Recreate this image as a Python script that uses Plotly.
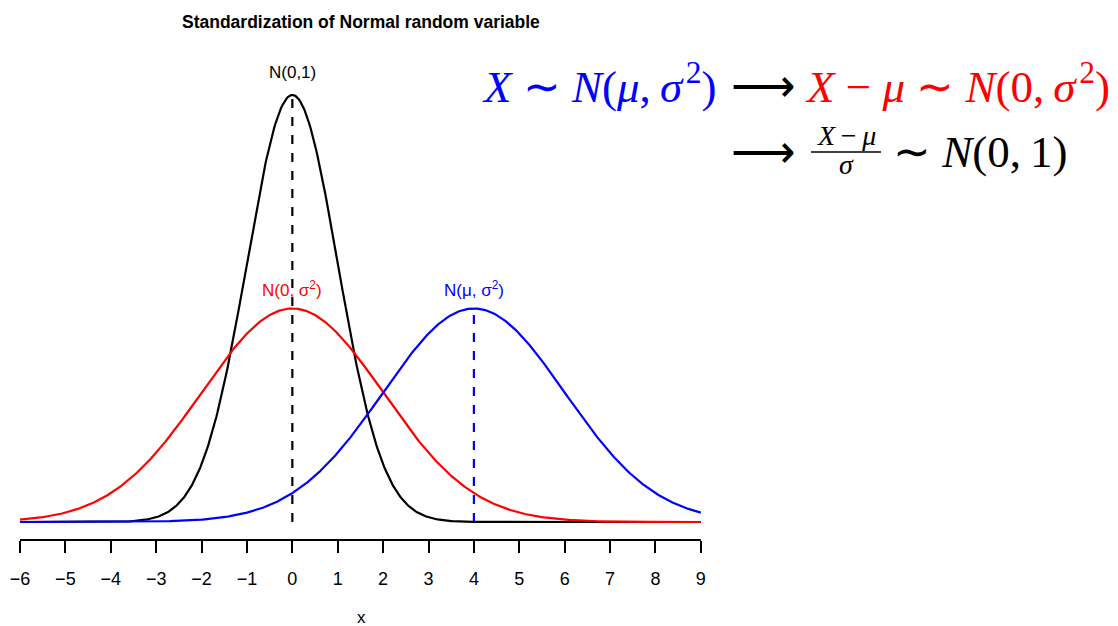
import numpy as np
import plotly.graph_objects as go

# ---- data ----
x_lo, x_hi = -6, 9
means = [0, 0, 4]
sds = [1, 2, 2]
colors = ["black", "red", "blue"]
curve_labels = ["N(0,1)", "N(0, σ<sup>2</sup>)", "N(μ, σ<sup>2</sup>)"]
label_x = [0, 0, 4]
tick_vals = list(range(-6, 10))
tick_text = [("−" + str(-v)) if v < 0 else str(v) for v in tick_vals]
title_text = "Standardization of Normal random variable"

W, H = 1118, 626
def px(x): return x / W
def py(y): return 1 - y / H

xs = np.linspace(x_lo, x_hi, 601)
def pdf(x, m, s):
    return np.exp(-0.5 * ((x - m) / s) ** 2) / (s * np.sqrt(2 * np.pi))

sans = "Liberation Sans, Arial, sans-serif"
serif = "Liberation Serif, Times New Roman, serif"
TH = "\u2009"   # thin space
HS = "\u200a"   # hair space

fig = go.Figure()
for m, s, c in zip(means, sds, colors):
    fig.add_trace(go.Scatter(x=xs, y=pdf(xs, m, s), mode="lines",
                             line=dict(color=c, width=2.2), hoverinfo="skip"))

# dashed vertical lines at means (N(0,1) and N(mu, s^2))
for idx in [0, 2]:
    m, s, c = means[idx], sds[idx], colors[idx]
    fig.add_trace(go.Scatter(x=[m, m], y=[0, pdf(m, m, s)], mode="lines",
                             line=dict(color=c, width=2.2, dash="9px,9px"),
                             hoverinfo="skip"))

# curve labels
for i in range(3):
    peak = pdf(means[i], means[i], sds[i])
    fig.add_annotation(x=label_x[i], y=peak, yshift=22 if i == 0 else 20, text=curve_labels[i],
                       showarrow=False, yanchor="middle",
                       font=dict(family=sans, size=17, color=colors[i]))

# x axis line from first to last tick
fig.add_shape(type="line", xref="x", yref="paper", x0=tick_vals[0], x1=tick_vals[-1],
              y0=py(540), y1=py(540), line=dict(color="black", width=2))

msize = 45
# line 1
fig.add_annotation(xref="paper", yref="paper", x=px(480), y=py(84), xanchor="left", yanchor="middle",
                   text="<i>X</i> ∼ <i>N</i>(<i>μ</i>," + TH + "<i>σ</i>" + HS + "<sup>2</sup>)",
                   showarrow=False, font=dict(family=serif, size=msize, color="blue"))
fig.add_annotation(xref="paper", yref="paper", x=px(763), y=py(86), xanchor="center", yanchor="middle",
                   text="⟶", showarrow=False,
                   font=dict(family=serif, size=msize, color="black"))
fig.add_annotation(xref="paper", yref="paper", x=px(1112), y=py(84), xanchor="right", yanchor="middle",
                   text="<i>X</i> − <i>μ</i> ∼ <i>N</i>(0," + TH + "<i>σ</i>" + HS + "<sup>2</sup>)",
                   showarrow=False, font=dict(family=serif, size=msize, color="red"))
# line 2
fig.add_annotation(xref="paper", yref="paper", x=px(763), y=py(152), xanchor="center", yanchor="middle",
                   text="⟶", showarrow=False,
                   font=dict(family=serif, size=msize, color="black"))
fig.add_annotation(xref="paper", yref="paper", x=px(846), y=py(136), xanchor="center", yanchor="middle",
                   text="<i>X</i>" + TH + "−" + TH + "<i>μ</i>", showarrow=False,
                   font=dict(family=serif, size=28, color="black"))
fig.add_shape(type="line", xref="paper", yref="paper", x0=px(811), x1=px(881),
              y0=py(152), y1=py(152), line=dict(color="black", width=1.5))
fig.add_annotation(xref="paper", yref="paper", x=px(846), y=py(164), xanchor="center", yanchor="middle",
                   text="<i>σ</i>", showarrow=False,
                   font=dict(family=serif, size=28, color="black"))
fig.add_annotation(xref="paper", yref="paper", x=px(980), y=py(152), xanchor="center", yanchor="middle",
                   text="∼ <i>N</i>(0," + TH + "1)", showarrow=False,
                   font=dict(family=serif, size=msize, color="black"))

# title and x label
fig.add_annotation(xref="paper", yref="paper", x=px(361), y=py(22), xanchor="center", yanchor="middle",
                   text="<b>" + title_text + "</b>", showarrow=False,
                   font=dict(family=sans, size=17.5, color="black"))
fig.add_annotation(xref="paper", yref="paper", x=px(361), y=py(617), xanchor="center", yanchor="middle",
                   text="x", showarrow=False,
                   font=dict(family=sans, size=17, color="black"))

y_bottom = -18 / 1070.3
y_top = 0.398942 + 17 / 1070.3
fig.update_layout(
    width=W, height=H, margin=dict(l=0, r=0, t=0, b=0),
    paper_bgcolor="white", plot_bgcolor="white", showlegend=False,
    xaxis=dict(domain=[0, 728 / W], range=[-6 - 20 / 45.39, -6 - 20 / 45.39 + 728 / 45.39],
               tickvals=tick_vals, ticktext=tick_text, ticks="outside", ticklen=12,
               tickwidth=2, tickcolor="black", showline=False, showgrid=False, zeroline=False,
               ticklabelstandoff=10, automargin=False,
               tickfont=dict(family=sans, size=18, color="black")),
    yaxis=dict(domain=[py(540), py(78)], range=[y_bottom, y_top], visible=False),
)
fig.write_html("out.html")
